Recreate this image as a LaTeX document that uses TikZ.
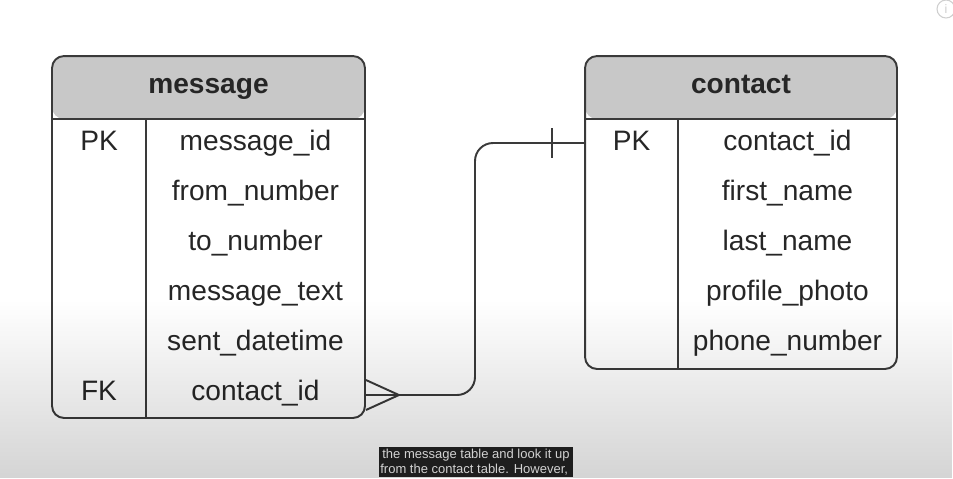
\documentclass[tikz,border=0pt]{standalone}
\usepackage{fontspec}
\setmainfont{Liberation Sans}
\usetikzlibrary{positioning,calc,fadings}
\definecolor{lineclr}{HTML}{3A3A3A}
\definecolor{headclr}{HTML}{C8C8C8}
\definecolor{textclr}{HTML}{262626}
\definecolor{subbg}{HTML}{1E1E1E}
\definecolor{subtxt}{HTML}{D2D2D2}
\definecolor{iconclr}{HTML}{CFCFCF}
\tikzfading[name=fadeup, top color=transparent!100, bottom color=transparent!0]
\tikzset{
  tbl/.style={draw=lineclr, line width=1.1pt, rounded corners=0.24cm, inner sep=0pt,
    path picture={\fill[headclr] (path picture bounding box.north west)
      rectangle ([yshift=-1.26cm]path picture bounding box.north east);}},
  sep/.style={draw=lineclr, line width=0.9pt},
  ttitle/.style={font=\bfseries\fontsize{16}{19}\selectfont, text=textclr, anchor=base},
  fld/.style={font=\fontsize{16}{19}\selectfont, text=textclr, anchor=base},
  rel/.style={draw=lineclr, line width=1.1pt},
  subline/.style={font=\fontsize{7.4}{8.5}\selectfont, text=subtxt, anchor=base west, inner sep=0pt},
}

\begin{document}
\begin{tikzpicture}[x=0.02cm, y=-0.02cm]
  \useasboundingbox (0,0) rectangle (953,478);
  \clip (0,0) rectangle (953,478);
  \fill[white] (0,0) rectangle (953,478);
  % message table
  \node[tbl, minimum width=6.26cm, minimum height=7.24cm] (msg) at (208.5,237) {};
  \draw[sep] (52,119) -- (365,119) (146,119) -- (146,418);
  \node[ttitle] (msg-title) at (208.5,93) {message};
  \foreach \f [count=\i] in {message\_id, from\_number, to\_number,
      message\_text, sent\_datetime, contact\_id}
    \node[fld] (msg-f\i) at (255.5,100+50*\i) {\f};
  \node[fld] (msg-pk) at (99,150) {PK};
  \node[fld] (msg-fk) at (99,400) {FK};
  % contact table
  \node[tbl, minimum width=6.24cm, minimum height=6.26cm] (con) at (741,212.5) {};
  \draw[sep] (585,119) -- (897,119) (678,119) -- (678,369);
  \node[ttitle] (con-title) at (741,93) {contact};
  \foreach \f [count=\i] in {contact\_id, first\_name, last\_name,
      profile\_photo, phone\_number}
    \node[fld] (con-f\i) at (787.5,100+50*\i) {\f};
  \node[fld] (con-pk) at (631.5,150) {PK};
  % one-to-many link
  \coordinate (one) at (con.west |- 0,143);
  \coordinate (many) at (msg.east |- 0,395);
  \draw[rel, rounded corners=0.36cm] (one) -- (475,143) -- (475,395) -- (many);
  \draw[rel] (one) ++(-32,-15) -- ++(0,30);
  \draw[rel] (many) ++(33,0) -- ++(-33,-15) (many) ++(33,0) -- ++(-33,15);
  % video overlay
  \fill[black, fill opacity=0.17, path fading=fadeup] (0,300) rectangle (953,478);
  \fill[subbg] (379,447) rectangle (573,477);
  \node[subline] (sub1) at (382,458) {the message table and look it up};
  \node[subline] (sub2) at (380,473) {from the contact table. However,};
  \node[draw=iconclr, circle, line width=0.6pt, minimum size=0.36cm, inner sep=0pt,
    text=iconclr, font=\fontsize{7}{8}\selectfont] (info) at (946,9) {i};
\end{tikzpicture}
\end{document}
